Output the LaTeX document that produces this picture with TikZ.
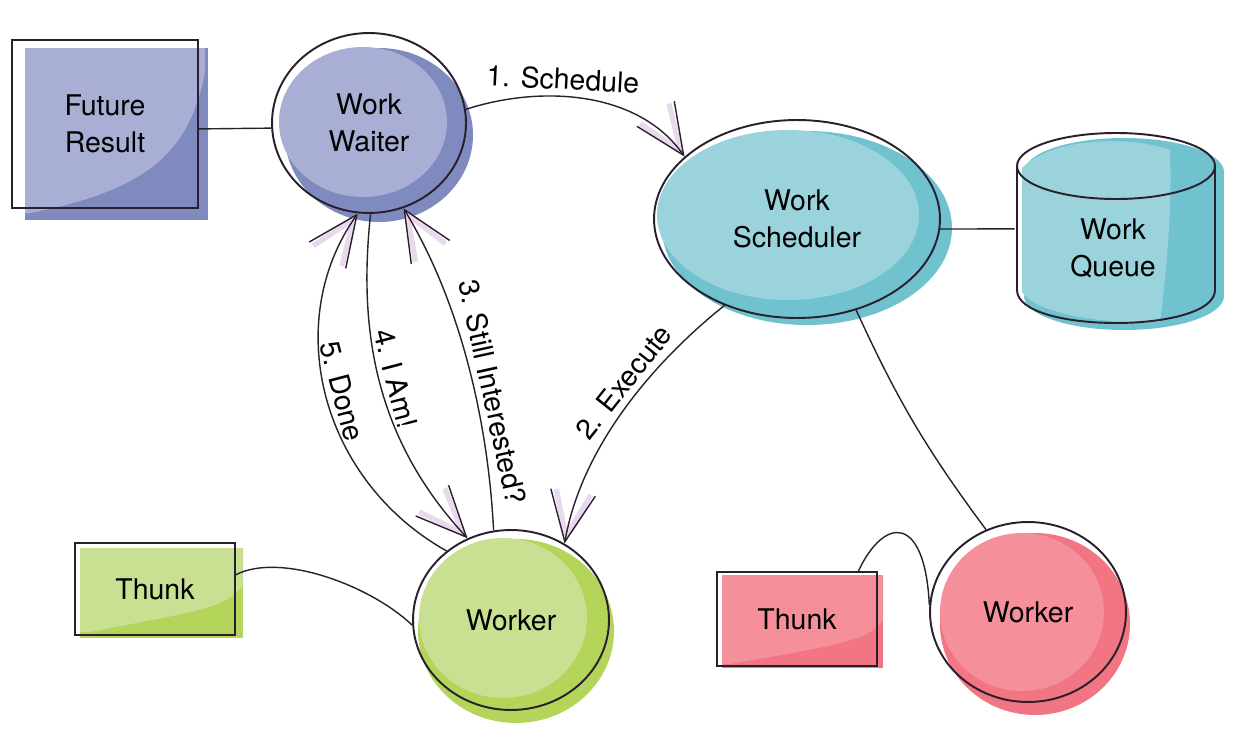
\documentclass[tikz,border=0pt]{standalone}
\usepackage{fontspec}
\setmainfont{TeX Gyre Heros}
\usetikzlibrary{shapes.geometric,arrows.meta,bending}

\definecolor{ink}{HTML}{2A1F2D}
\definecolor{lav}{HTML}{E9D8EE}
\definecolor{waitlight}{HTML}{A8AED4}
\definecolor{waitdark}{HTML}{7F8ABF}
\definecolor{schedlight}{HTML}{9BD3DC}
\definecolor{scheddark}{HTML}{6FC2CE}
\definecolor{greenlight}{HTML}{C9DF92}
\definecolor{greendark}{HTML}{B4D45A}
\definecolor{redlight}{HTML}{F5909B}
\definecolor{reddark}{HTML}{F17582}

\tikzset{
  lbl/.style={font=\fontsize{16.2}{21}\selectfont, align=center},
  blob/.style={lbl, ellipse, draw=ink, line width=1.1pt, inner sep=0pt},
  card/.style={lbl, rectangle, draw=ink, line width=1.1pt, inner sep=0pt},
  wire/.style={draw=ink, line width=0.8pt},
  flow/.style={wire, -{Straight Barb[length=10mm,width=9mm,line width=0.8pt]},
    preaction={draw=lav, dash pattern=on 0pt off 5000pt,
      -{Straight Barb[length=9mm,width=7mm,line width=3pt]}}},
}

\begin{document}
\begin{tikzpicture}[x=0.02cm,y=-0.02cm]
        \useasboundingbox (0,0) rectangle (1234,737);
        % Colour patches under the outlines
        % Future result
        \fill[waitdark] (25,48) rectangle (208,220);
        \fill[waitlight] (25,48) -- (205,48) -- (205,72) .. controls (190,150) and (150,190) .. (30,213) -- (25,213) -- cycle;
        % Work waiter
        \fill[waitdark] (379,135) ellipse (94 and 87);
        \fill[waitlight] (363,122) ellipse (84 and 75);
        % Work scheduler
        \fill[scheddark] (807,228) ellipse (145 and 97);
        \fill[schedlight] (788,215) ellipse (131 and 85);
        % Work queue
        \fill[scheddark] (1024,172) rectangle (1224,296);
        \fill[scheddark] (1124,172) ellipse (100 and 34);
        \fill[scheddark] (1124,296) ellipse (100 and 34);
        \fill[schedlight] (1022,168) -- (1022,292) .. controls (1040,318) and (1120,324) .. (1160,322) .. controls (1168,260) and (1172,200) .. (1170,150) .. controls (1130,135) and (1050,138) .. (1022,168) -- cycle;
        % Green thunk and worker
        \fill[greendark] (80,548) rectangle (243,638);
        \fill[greenlight] (80,548) -- (243,548) -- (243,585) .. controls (225,610) and (190,612) .. (90,632) -- (80,632) -- cycle;
        \fill[greendark] (516,631) ellipse (98 and 92);
        \fill[greenlight] (503,618) ellipse (84 and 80);
        % Red thunk and worker
        \fill[reddark] (722,575) rectangle (883,668);
        \fill[redlight] (722,575) -- (883,575) -- (883,620) .. controls (870,640) and (840,645) .. (730,664) -- (722,664) -- cycle;
        \fill[reddark] (1035,624) ellipse (95 and 91);
        \fill[redlight] (1022,612) ellipse (82 and 79);

        % Queue outline (cylinder)
        \draw[ink, line width=1.1pt] (1116,166) ellipse (99 and 33);
        \draw[ink, line width=1.1pt] (1017,166) -- (1017,290) .. controls (1017,334) and (1215,334) .. (1215,290) -- (1215,166);

        % Nodes
        \node[card, minimum width=3.72cm, minimum height=3.36cm] (future) at (105,124) {Future\\Result};
        \node[blob, minimum width=3.88cm, minimum height=3.6cm] (waiter) at (369,123) {Work\\Waiter};
        \node[blob, minimum width=5.72cm, minimum height=3.96cm] (sched) at (797,219) {Work\\Scheduler};
        \node[lbl, minimum width=3.92cm] (queue) at (1113,248) {Work\\Queue};
        \node[card, minimum width=3.2cm, minimum height=1.84cm] (gthunk) at (155,589) {Thunk};
        \node[blob, minimum width=3.92cm, minimum height=3.6cm] (gworker) at (511,620) {Worker};
        \node[card, minimum width=3.2cm, minimum height=1.88cm] (rthunk) at (797,619) {Thunk};
        \node[blob, minimum width=3.92cm, minimum height=3.6cm] (rworker) at (1028,612) {Worker};

        % Plain links
        \draw[wire] (future.-3.5) -- (waiter.183);
        \draw[wire] (sched.-4) -- (queue.169);
        \draw[wire] (gthunk.10) .. controls (280,552) and (370,585) .. (gworker.183);
        \draw[wire] (rthunk.38) .. controls (885,515) and (925,515) .. (rworker.176);
        \draw[wire] (sched.-57) to[bend right=6] (rworker.117);

        % Messages
        \draw[flow] (waiter.8) .. controls (540,85) and (640,90) .. (sched.151) node[lbl, sloped, above, pos=0.4] {1. Schedule};
        \draw[flow] (sched.230) .. controls (650,365) and (580,450) .. (gworker.55) node[lbl, sloped, above, pos=0.42] {2. Execute};
        \draw[flow] (gworker.101) .. controls (488,420) and (460,300) .. (waiter.-68) node[lbl, sloped, above, pos=0.4] {3. Still Interested?};
        \draw[flow] (waiter.-89) .. controls (358,330) and (375,440) .. (gworker.118) node[lbl, sloped, above, pos=0.5] {4. I Am!};
        \draw[flow] (gworker.133) .. controls (320,480) and (280,320) .. (waiter.-97) node[lbl, sloped, above, pos=0.5] {5. Done};
    \end{tikzpicture}
\end{document}
